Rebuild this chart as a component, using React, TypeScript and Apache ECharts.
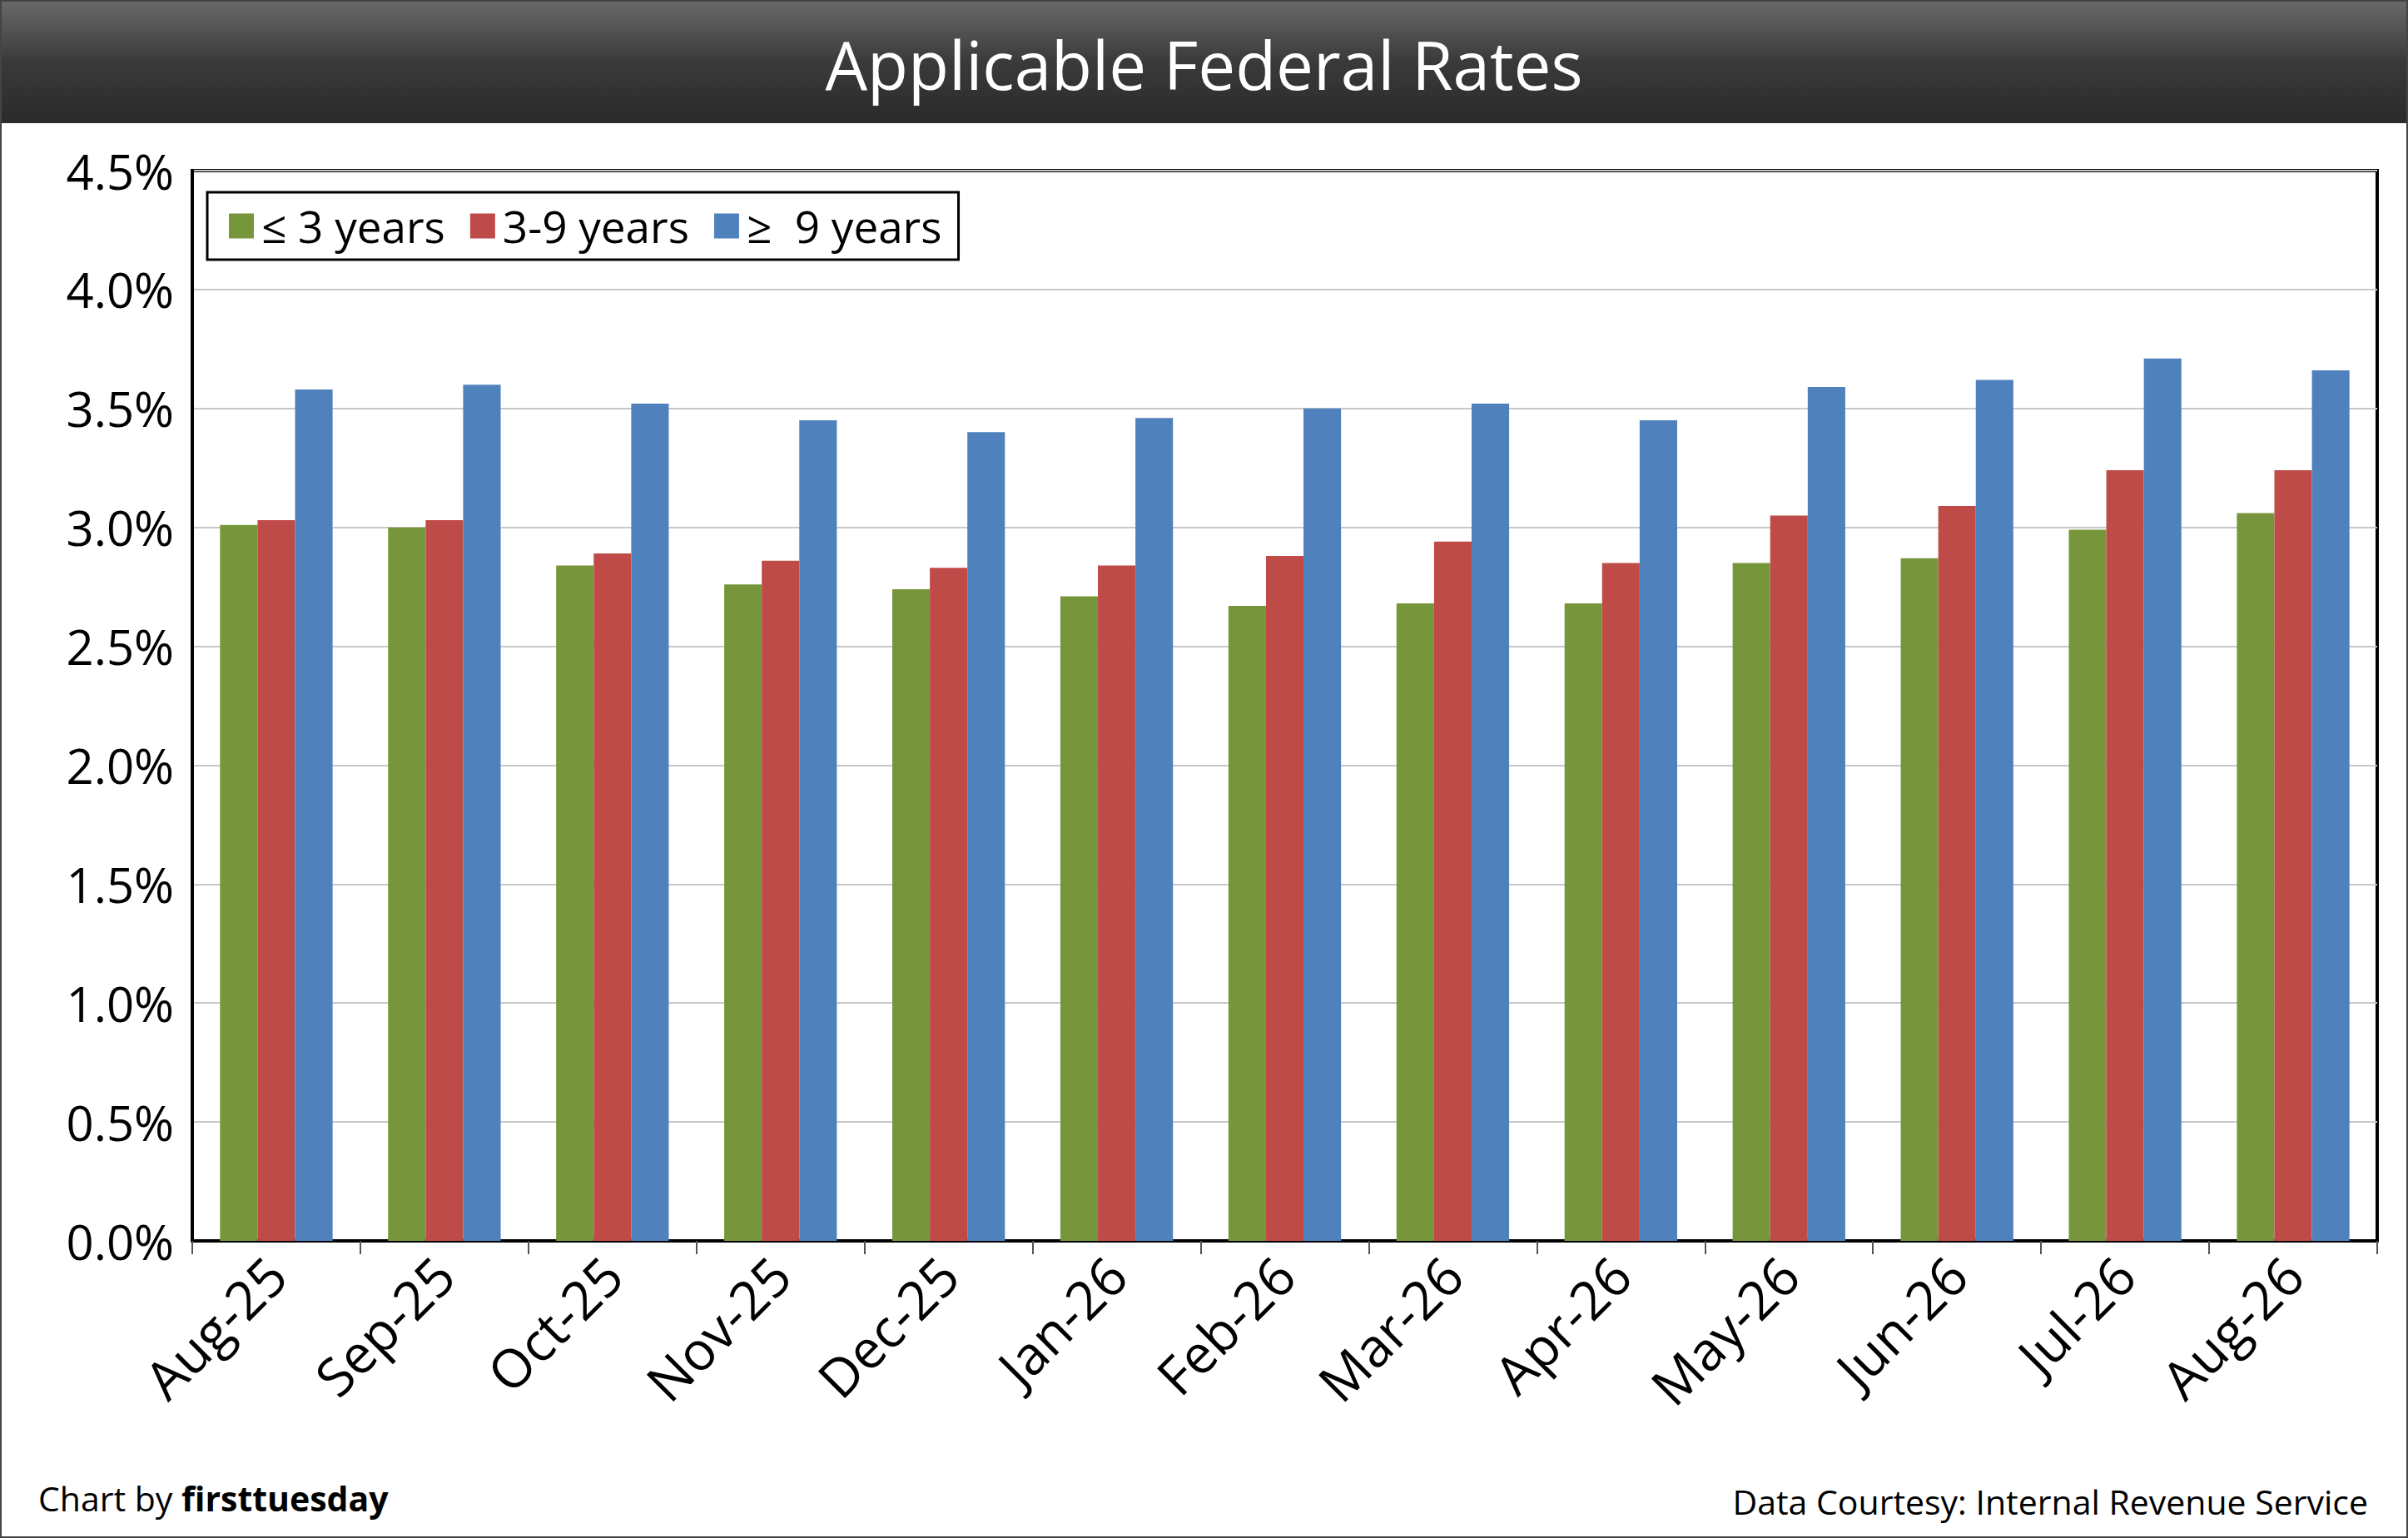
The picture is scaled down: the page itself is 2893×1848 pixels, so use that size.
import React, { useEffect, useRef } from "react";
import * as echarts from "echarts";

const categories = ["Aug-25","Sep-25","Oct-25","Nov-25","Dec-25","Jan-26","Feb-26","Mar-26","Apr-26","May-26","Jun-26","Jul-26","Aug-26"];
const shortTerm = [3.01,3.00,2.84,2.76,2.74,2.71,2.67,2.68,2.68,2.85,2.87,2.99,3.06];
const midTerm = [3.03,3.03,2.89,2.86,2.83,2.84,2.88,2.94,2.85,3.05,3.09,3.24,3.24];
const longTerm = [3.58,3.60,3.52,3.45,3.40,3.46,3.50,3.52,3.45,3.59,3.62,3.71,3.66];
const seriesNames = ["≤ 3 years","3-9 years","≥  9 years"];

const W = 2893, H = 1848;
const FONT = "Open Sans, Liberation Sans, Arial, sans-serif";

export default function App() {
  const ref = useRef<HTMLDivElement>(null);
  useEffect(() => {
    const chart = echarts.init(ref.current!, null, { renderer: "svg" });
    const mk = (name: string, data: number[], color: string) => ({
      name, type: "bar", data, barGap: "0%", barCategoryGap: "33%",
      itemStyle: { color },
    });
    chart.setOption({
      animation: false,
      backgroundColor: "#fff",
      graphic: [
        { type: "rect", shape: { x: 0, y: 0, width: W, height: 148 }, z: 0,
          style: { fill: new echarts.graphic.LinearGradient(0, 0, 0, 1, [
            { offset: 0, color: "#6a6a6a" }, { offset: 0.5, color: "#3a3a3a" }, { offset: 1, color: "#2a2a2a" }]) } },
        { type: "rect", shape: { x: 1, y: 1, width: W - 2, height: H - 2 }, z: 10,
          style: { fill: "none", stroke: "#444", lineWidth: 2 } },
        { type: "text", x: W / 2, y: 76, z: 11,
          style: { text: "Applicable Federal Rates", fill: "#fff", font: `80px ${FONT}`, textAlign: "center", textVerticalAlign: "middle" } },
        { type: "text", x: 46, y: 1800, z: 11,
          style: { rich: { a: { font: `41px ${FONT}`, fill: "#000" }, b: { font: `bold 41px ${FONT}`, fill: "#000" } },
            text: "{a|Chart by }{b|firsttuesday}", textVerticalAlign: "middle" } },
        { type: "text", x: 2845, y: 1804, z: 11,
          style: { text: "Data Courtesy: Internal Revenue Service", font: `41px ${FONT}`, fill: "#000", textAlign: "right", textVerticalAlign: "middle" } },
      ],
      legend: {
        left: 249, top: 231, itemWidth: 30, itemHeight: 30, itemGap: 30,
        padding: [14, 20, 14, 26],
        borderColor: "#000", borderWidth: 3, backgroundColor: "#fff",
        icon: "rect",
        textStyle: { fontSize: 53, fontFamily: FONT, color: "#000", padding: [0, 0, 0, 4] },
        data: seriesNames,
      },
      grid: { left: 231, right: 37, top: 205, bottom: 357, show: true, borderColor: "#000", borderWidth: 4 },
      xAxis: {
        type: "category", data: categories,
        axisLine: { lineStyle: { color: "#000", width: 4 } },
        axisTick: { show: true, length: 16, lineStyle: { color: "#555", width: 2 } },
        axisLabel: { rotate: 45, fontSize: 64, fontFamily: FONT, color: "#000", margin: 30 },
      },
      yAxis: {
        type: "value", min: 0, max: 4.5, interval: 0.5,
        axisLine: { show: true, lineStyle: { color: "#000", width: 4 } },
        axisTick: { show: false },
        splitLine: { lineStyle: { color: "#c8c8c8", width: 2 } },
        axisLabel: { formatter: (v: number) => v.toFixed(1) + "%", fontSize: 58, fontFamily: FONT, color: "#000", margin: 22 },
      },
      series: [
        mk(seriesNames[0], shortTerm, "#77963b"),
        mk(seriesNames[1], midTerm, "#be4b48"),
        mk(seriesNames[2], longTerm, "#4f81bd"),
      ],
    });
    return () => chart.dispose();
  }, []);
  return <div ref={ref} style={{ position: "absolute", left: 0, top: 0, width: W, height: H }} />;
}
